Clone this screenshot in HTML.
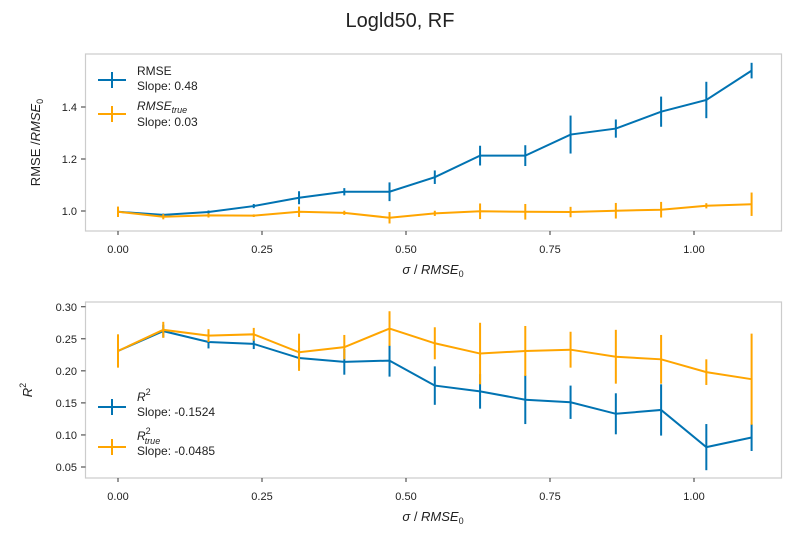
<!DOCTYPE html>
<html><head><meta charset="utf-8"><style>
body{margin:0;background:#fff}
svg{font-family:"Liberation Sans","DejaVu Sans",sans-serif}
</style></head><body>
<svg id="c" width="800" height="550" xmlns="http://www.w3.org/2000/svg">
<text x="400" y="27" text-anchor="middle" font-size="20" fill="#222">Logld50, RF</text>
</svg>
<script>
const xVals=[0,0.0786,0.1571,0.2357,0.3143,0.3929,0.4714,0.55,0.6286,0.7071,0.7857,0.8643,0.9429,1.0214,1.1];
const xTicks=[0,0.25,0.5,0.75,1.0];
const xTickLabels=["0.00","0.25","0.50","0.75","1.00"];
const rmse=[0.997,0.985,0.996,1.019,1.051,1.074,1.074,1.130,1.213,1.213,1.294,1.317,1.382,1.427,1.540];
const rmseErr=[0.012,0.005,0.006,0.008,0.025,0.014,0.036,0.026,0.038,0.04,0.073,0.035,0.058,0.07,0.03];
const rmseTrue=[0.997,0.978,0.983,0.982,0.997,0.993,0.974,0.991,0.999,0.997,0.996,1.001,1.005,1.020,1.026];
const rmseTrueErr=[0.02,0.01,0.008,0.005,0.02,0.008,0.022,0.01,0.03,0.03,0.02,0.03,0.03,0.01,0.045];
const topTicks=[1.0,1.2,1.4];
const topTickLabels=["1.0","1.2","1.4"];
const r2=[0.231,0.262,0.245,0.242,0.220,0.214,0.216,0.177,0.168,0.155,0.151,0.133,0.139,0.081,0.096];
const r2Err=[0.01,0.01,0.01,0.008,0.015,0.02,0.025,0.03,0.027,0.038,0.026,0.032,0.04,0.036,0.021];
const r2True=[0.231,0.264,0.255,0.257,0.229,0.237,0.266,0.243,0.227,0.231,0.233,0.222,0.218,0.198,0.187];
const r2TrueErr=[0.026,0.0125,0.01,0.01,0.029,0.019,0.027,0.025,0.048,0.039,0.028,0.042,0.038,0.02,0.071];
const botTicks=[0.05,0.10,0.15,0.20,0.25,0.30];
const botTickLabels=["0.05","0.10","0.15","0.20","0.25","0.30"];

const NS="http://www.w3.org/2000/svg";
const svg=document.getElementById('c');
function el(tag,attrs,parent){const e=document.createElementNS(NS,tag);for(const k in attrs)e.setAttribute(k,attrs[k]);(parent||svg).appendChild(e);return e;}
const X=v=>118+v*576;
const BLUE="#0173b2",ORANGE="#ffa500";

function panel(name,top,bottom,Y,ticks,labels,series,legend,ylabel,yLabelX){
  const g=el('g',{});
  
  
  const frame=el('rect',{x:85.5,y:top,width:696,height:bottom-top,fill:'none',stroke:'#ccc','stroke-width':1.2},g);
  
  
  xTicks.forEach((t,i)=>{
    const l=el('line',{x1:X(t),x2:X(t),y1:bottom,y2:bottom+4,stroke:'#333','stroke-width':1},g);
    
    
    const tx=el('text',{x:X(t),y:bottom+22,'text-anchor':'middle','font-size':11,fill:'#222'},g);
    tx.textContent=xTickLabels[i];
    
    
  });
  ticks.forEach((t,i)=>{
    const l=el('line',{x1:81,x2:85.5,y1:Y(t),y2:Y(t),stroke:'#333','stroke-width':1},g);
    
    
    const tx=el('text',{x:77,y:Y(t)+4,'text-anchor':'end','font-size':11,fill:'#222'},g);
    tx.textContent=labels[i];
    
    
  });
  series.forEach(s=>{
    const sg=el('g',{},g);
    
    
    const pts=s.vals.map((v,i)=>X(xVals[i])+','+Y(v)).join(' ');
    const pl=el('polyline',{points:pts,fill:'none',stroke:s.color,'stroke-width':2},sg);
    
    
    s.vals.forEach((v,i)=>{
      const eb=el('line',{x1:X(xVals[i]),x2:X(xVals[i]),y1:Y(v-s.err[i]),y2:Y(v+s.err[i]),stroke:s.color,'stroke-width':2},sg);
      
      
    });
  });
  legend.forEach(L=>{
    const lg=el('g',{},g);
    
    
    el('line',{x1:98,x2:126,y1:L.y,y2:L.y,stroke:L.color,'stroke-width':2},lg);
    el('line',{x1:112,x2:112,y1:L.y-8,y2:L.y+8,stroke:L.color,'stroke-width':2},lg);
    const t1=el('text',{x:137,y:L.y1,'font-size':12,fill:'#222'},lg);
    t1.innerHTML=L.label;
    const t2=el('text',{x:137,y:L.y2,'font-size':12,fill:'#222'},lg);
    t2.textContent=L.slope;
  });
  const yl=el('text',{x:yLabelX,y:(top+bottom)/2,'text-anchor':'middle','font-size':13,fill:'#222',transform:`rotate(-90 ${yLabelX} ${(top+bottom)/2})`},g);
  yl.innerHTML=ylabel;
  
  
  const xl=el('text',{x:433,y:bottom+43,'text-anchor':'middle','font-size':13,fill:'#222'},g);
  xl.innerHTML='<tspan font-style="italic">σ</tspan> / <tspan font-style="italic">RMSE</tspan><tspan font-size="9" dy="3">0</tspan>';
  
  
}
const Ytop=v=>211-(v-1)*260;
panel('top-panel',54,231,Ytop,topTicks,topTickLabels,
  [{name:'rmse-series',vals:rmse,err:rmseErr,color:BLUE},{name:'rmse-true-series',vals:rmseTrue,err:rmseTrueErr,color:ORANGE}],
  [{y:80,y1:75,y2:90,color:BLUE,label:'RMSE',slope:'Slope: 0.48'},
   {y:114,y1:110,y2:126,color:ORANGE,label:'<tspan font-style="italic">RMSE</tspan><tspan font-style="italic" font-size="9" dy="3">true</tspan>',slope:'Slope: 0.03'}],
  'RMSE /<tspan font-style="italic">RMSE</tspan><tspan font-size="9" dy="3">0</tspan>',40);
const Ybot=v=>467-(v-0.05)*641;
panel('bottom-panel',302,478,Ybot,botTicks,botTickLabels,
  [{name:'r2-series',vals:r2,err:r2Err,color:BLUE},{name:'r2-true-series',vals:r2True,err:r2TrueErr,color:ORANGE}],
  [{y:407,y1:401,y2:416,color:BLUE,label:'<tspan font-style="italic">R</tspan><tspan font-size="9" dy="-6">2</tspan>',slope:'Slope: -0.1524'},
   {y:447,y1:440,y2:455,color:ORANGE,label:'<tspan font-style="italic">R</tspan><tspan font-size="9" dy="-6">2</tspan><tspan font-size="9" font-style="italic" dx="-6" dy="10">true</tspan>',slope:'Slope: -0.0485'}],
  '<tspan font-style="italic">R</tspan><tspan font-size="9" dy="-6">2</tspan>',32);
</script>
</body></html>
